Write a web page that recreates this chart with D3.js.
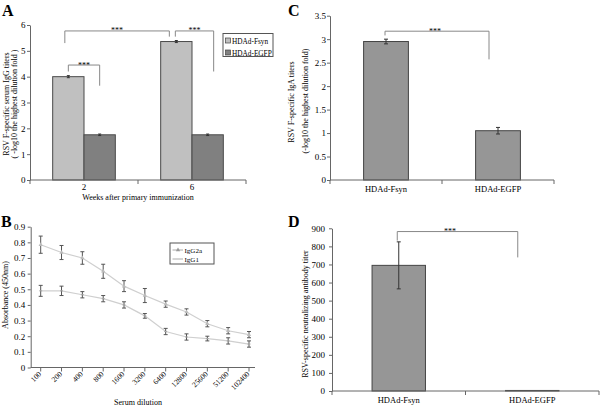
<!DOCTYPE html>
<html><head><meta charset="utf-8">
<script src="https://cdn.jsdelivr.net/npm/d3@7"></script>
<style>
body{margin:0;background:#fff}
svg{display:block}
text{font-family:"Liberation Serif","Times New Roman",serif;fill:#000}
</style>
</head><body>
<svg id="chart" width="600" height="407"></svg>
<script>
// ---------- DATA ----------
// Panel A
const weeks = ["2", "6"];
const seriesA = ["HDAd-Fsyn", "HDAd-EGFP"];
const iggFsyn = [4.0, 5.36];
const iggFsynErr = [0.04, 0.04];
const iggEGFP = [1.75, 1.75];
const iggEGFPErr = [0.03, 0.03];
const ticksA = [0, 1, 2, 3, 4, 5, 6];
// Panel B
const dilutions = ["100","200","400","800","1600","3200","6400","12800","25600","51200","102400"];
const igG2a = [0.785, 0.735, 0.70, 0.615, 0.52, 0.46, 0.405, 0.355, 0.28, 0.235, 0.21];
const igG2aErr = [0.055, 0.045, 0.04, 0.045, 0.035, 0.045, 0.02, 0.02, 0.02, 0.02, 0.02];
const igG1 = [0.49, 0.49, 0.465, 0.44, 0.40, 0.33, 0.23, 0.195, 0.185, 0.17, 0.15];
const igG1Err = [0.035, 0.03, 0.02, 0.02, 0.02, 0.015, 0.02, 0.02, 0.015, 0.02, 0.02];
const ticksB = [0, 0.1, 0.2, 0.3, 0.4, 0.5, 0.6, 0.7, 0.8, 0.9];
// Panel C
const groups = ["HDAd-Fsyn", "HDAd-EGFP"];
const igaTiter = [2.95, 1.05];
const igaErr = [0.05, 0.07];
const ticksC = [0, 0.5, 1, 1.5, 2, 2.5, 3, 3.5];
// Panel D
const neutTiter = [695, 3];
const neutErr = [130, 0];
const ticksD = [0, 100, 200, 300, 400, 500, 600, 700, 800, 900];

// ---------- HELPERS ----------
const svg = d3.select("#chart");
const AX = "#666";

function yAxis(g, y, x0, ticks, fmt, pad) {
  const ax = g.append("g").attr("transform", `translate(${x0},0)`)
    .call(d3.axisLeft(y).tickValues(ticks).tickSize(3).tickSizeOuter(0).tickPadding(pad).tickFormat(fmt));
  ax.select(".domain").attr("stroke", AX);
  ax.selectAll(".tick line").attr("stroke", AX);
  ax.selectAll(".tick text").attr("font-family", '"Liberation Serif",serif').attr("font-size", 9).attr("fill", "#000");
  return ax;
}
function errBar(g, cx, yTop, yBot, cap, color) {
  g.append("line").attr("x1", cx).attr("x2", cx).attr("y1", yTop).attr("y2", yBot).attr("stroke", color);
  g.append("line").attr("x1", cx - cap).attr("x2", cx + cap).attr("y1", yTop).attr("y2", yTop).attr("stroke", color);
  g.append("line").attr("x1", cx - cap).attr("x2", cx + cap).attr("y1", yBot).attr("y2", yBot).attr("stroke", color);
}
function bracket(g, xl, xr, y, yl, yr, sx) {
  g.append("path").attr("d", `M${xl},${yl}V${y}H${xr}V${yr}`).attr("fill", "none").attr("stroke", "#888").attr("stroke-width", 1);
  g.append("text").attr("x", sx !== undefined ? sx : (xl + xr) / 2).attr("y", y + 2.5)
    .attr("text-anchor", "middle").attr("font-size", 8).attr("fill", "#444").text("***");
}
function panelLetter(x, y, t) {
  svg.append("text").attr("x", x).attr("y", y).attr("font-family", '"Liberation Sans",Arial,sans-serif')
    .attr("font-weight", "bold").attr("font-size", 16).text(t);
}
function vText(x, y, t, size) {
  svg.append("text").attr("transform", `translate(${x},${y}) rotate(-90)`).attr("text-anchor", "middle")
    .attr("font-size", size || 8).text(t);
}
function boundaryTicks(g, x, y0) {
  const r = x.range();
  const n = x.domain().length;
  const bounds = d3.range(n + 1).map(i => r[0] + (r[1] - r[0]) * i / n);
  g.append("line").attr("x1", r[0]).attr("x2", r[1]).attr("y1", y0).attr("y2", y0).attr("stroke", AX);
  g.selectAll(null).data(bounds).join("line")
    .attr("x1", d => d).attr("x2", d => d).attr("y1", y0).attr("y2", y0 + 4).attr("stroke", AX);
}

// ---------- PANEL A ----------
{
  const g = svg.append("g");
  const x = d3.scaleBand().domain(weeks).range([30, 246]).padding(0);
  const xi = d3.scaleBand().domain(seriesA).range([x.bandwidth() * 0.21, x.bandwidth() * 0.79]).padding(0);
  const y = d3.scaleLinear().domain([0, 6]).range([180, 25]);
  const vals = {"HDAd-Fsyn": iggFsyn, "HDAd-EGFP": iggEGFP};
  const errs = {"HDAd-Fsyn": iggFsynErr, "HDAd-EGFP": iggEGFPErr};
  const fills = {"HDAd-Fsyn": "#c0c0c0", "HDAd-EGFP": "#808080"};
  const cx = (w, s) => x(w) + xi(s) + xi.bandwidth() / 2;
  weeks.forEach((w, i) => {
    seriesA.forEach(s => {
      const v = vals[s][i];
      g.append("rect").attr("x", x(w) + xi(s)).attr("y", y(v)).attr("width", xi.bandwidth()).attr("height", y(0) - y(v))
        .attr("fill", fills[s]).attr("stroke", "#4a4a4a").attr("stroke-width", 1);
      errBar(g, cx(w, s), y(v + errs[s][i]), y(v - errs[s][i]), 1.5, "#333");
    });
  });
  yAxis(g, y, 30, ticksA, d3.format("d"), 1.5);
  boundaryTicks(g, x, y(0));
  g.selectAll(null).data(weeks).join("text").attr("x", d => x(d) + x.bandwidth() / 2).attr("y", 190)
    .attr("text-anchor", "middle").attr("font-size", 9).text(d => d);
  // brackets
  bracket(g, cx("2", "HDAd-Fsyn"), cx("2", "HDAd-EGFP"), y(4.45), y(4.2), y(3.65));
  bracket(g, cx("2", "HDAd-Fsyn") - 3.5, cx("6", "HDAd-Fsyn") - 7, y(5.77), y(5.3), y(5.55));
  bracket(g, cx("6", "HDAd-Fsyn") - 1, cx("6", "HDAd-EGFP") + 6, y(5.77), y(5.55), y(4.2));
  // legend
  const lg = g.append("g");
  lg.append("rect").attr("x", 223).attr("y", 33.5).attr("width", 50).attr("height", 23).attr("fill", "#fff").attr("stroke", "#555");
  seriesA.forEach((s, i) => {
    lg.append("rect").attr("x", 225.5).attr("y", 38 + i * 12).attr("width", 5).attr("height", 5).attr("fill", fills[s]).attr("stroke", "#444").attr("stroke-width", 0.7);
    lg.append("text").attr("x", 232).attr("y", 43.5 + i * 12).attr("font-family", '"Liberation Mono",monospace').attr("font-size", 7.3).text(s);
  });
  vText(8.5, 104, "RSV F-specific serum IgG titers", 8);
  vText(17, 104, "( -log10 the highest dilution fold )", 8);
  g.append("text").attr("x", 138).attr("y", 200).attr("text-anchor", "middle").attr("font-size", 8).text("Weeks after primary immunization");
  panelLetter(2, 16, "A");
}

// ---------- PANEL B ----------
{
  const g = svg.append("g");
  const x = d3.scalePoint().domain(dilutions).range([40.7, 249]);
  const y = d3.scaleLinear().domain([0, 0.9]).range([367.5, 226.7]);
  yAxis(g, y, 30.7, ticksB, d => d === 0 ? "0" : d3.format(".1f")(d), 2.5);
  g.append("line").attr("x1", 30.7).attr("x2", 255).attr("y1", y(0)).attr("y2", y(0)).attr("stroke", AX);
  g.selectAll(null).data(dilutions).join("line").attr("x1", d => x(d)).attr("x2", d => x(d))
    .attr("y1", y(0)).attr("y2", y(0) + 4).attr("stroke", AX);
  g.selectAll(null).data(dilutions).join("text")
    .attr("transform", d => `translate(${x(d) + 1},${y(0) + 7}) rotate(-45)`)
    .attr("text-anchor", "end").attr("font-size", 7.5).text(d => d);
  const line = d3.line().x((d, i) => x(dilutions[i])).y(d => y(d));
  [[igG2a, igG2aErr], [igG1, igG1Err]].forEach(([vals, errs], k) => {
    g.append("path").datum(vals).attr("d", line).attr("fill", "none").attr("stroke", "#cfcfcf").attr("stroke-width", 1.2);
    vals.forEach((v, i) => {
      errBar(g, x(dilutions[i]), y(v + errs[i]), y(v - errs[i]), 2, "#555");
      if (k === 0) {
        g.append("path").attr("d", d3.symbol(d3.symbolTriangle, 8)()).attr("transform", `translate(${x(dilutions[i])},${y(v)})`).attr("fill", "#bbb");
      } else {
        g.append("line").attr("x1", x(dilutions[i]) - 1.5).attr("x2", x(dilutions[i]) + 1.5).attr("y1", y(v)).attr("y2", y(v)).attr("stroke", "#aaa");
      }
    });
  });
  // legend
  const lg = g.append("g");
  lg.append("rect").attr("x", 170).attr("y", 243).attr("width", 44).attr("height", 21).attr("fill", "#fff").attr("stroke", "#555");
  ["IgG2a", "IgG1"].forEach((s, i) => {
    const yy = 250 + i * 9;
    lg.append("line").attr("x1", 172.5).attr("x2", 183).attr("y1", yy).attr("y2", yy).attr("stroke", "#aaa");
    if (i === 0) lg.append("path").attr("d", d3.symbol(d3.symbolTriangle, 8)()).attr("transform", `translate(178,${yy})`).attr("fill", "#999");
    lg.append("text").attr("x", 184.5).attr("y", yy + 2.5).attr("font-family", '"Liberation Mono",monospace').attr("font-size", 7).text(s);
  });
  vText(8, 295, "Absorbance (450nm)", 8);
  g.append("text").attr("x", 138).attr("y", 405).attr("text-anchor", "middle").attr("font-size", 8).text("Serum dilution");
  panelLetter(1, 227, "B");
}

// ---------- PANEL C ----------
{
  const g = svg.append("g");
  const x = d3.scaleBand().domain(groups).range([330, 554]).paddingInner(0.6).paddingOuter(0.3);
  const y = d3.scaleLinear().domain([0, 3.5]).range([180, 15.7]);
  groups.forEach((s, i) => {
    const v = igaTiter[i];
    g.append("rect").attr("x", x(s)).attr("y", y(v)).attr("width", x.bandwidth()).attr("height", y(0) - y(v))
      .attr("fill", "#969696").attr("stroke", "#444");
    errBar(g, x(s) + x.bandwidth() / 2, y(v + igaErr[i]), y(v - igaErr[i]), 2, "#333");
  });
  yAxis(g, y, 330, ticksC, d => d3.format("")(d), 1);
  boundaryTicks(g, x, y(0));
  g.selectAll(null).data(groups).join("text").attr("x", d => x(d) + x.bandwidth() / 2).attr("y", 192)
    .attr("text-anchor", "middle").attr("font-size", 8.5).text(d => d);
  const c = s => x(s) + x.bandwidth() / 2;
  bracket(g, c(groups[0]) - 1, c(groups[1]) - 9, y(3.17), y(3.08), y(2.57), 435);
  vText(294, 102, "RSV F-specific IgA titers", 8);
  vText(308, 101, "(-log10 the highest dilution fold)", 8);
  panelLetter(288, 16, "C");
}

// ---------- PANEL D ----------
{
  const g = svg.append("g");
  const x = d3.scaleBand().domain(groups).range([332, 599]).paddingInner(0.6).paddingOuter(0.3);
  const y = d3.scaleLinear().domain([0, 900]).range([391, 228.3]);
  groups.forEach((s, i) => {
    const v = neutTiter[i];
    g.append("rect").attr("x", x(s)).attr("y", y(v)).attr("width", x.bandwidth()).attr("height", Math.max(0, y(0) - y(v)))
      .attr("fill", "#969696").attr("stroke", "#444");
    if (neutErr[i] > 0) errBar(g, x(s) + x.bandwidth() / 2, y(v + neutErr[i]), y(v - neutErr[i]), 2, "#333");
  });
  yAxis(g, y, 332, ticksD, d3.format("d"), 4);
  boundaryTicks(g, x, y(0));
  g.selectAll(null).data(groups).join("text").attr("x", d => x(d) + x.bandwidth() / 2).attr("y", 403)
    .attr("text-anchor", "middle").attr("font-size", 8.5).text(d => d);
  const c = s => x(s) + x.bandwidth() / 2;
  bracket(g, c(groups[0]) - 1.5, c(groups[1]) - 14.5, y(882), y(832), y(739), 450);
  vText(308, 314, "RSV-specific neutralizing antibody titer", 8);
  panelLetter(288, 227, "D");
}
</script>
</body></html>
